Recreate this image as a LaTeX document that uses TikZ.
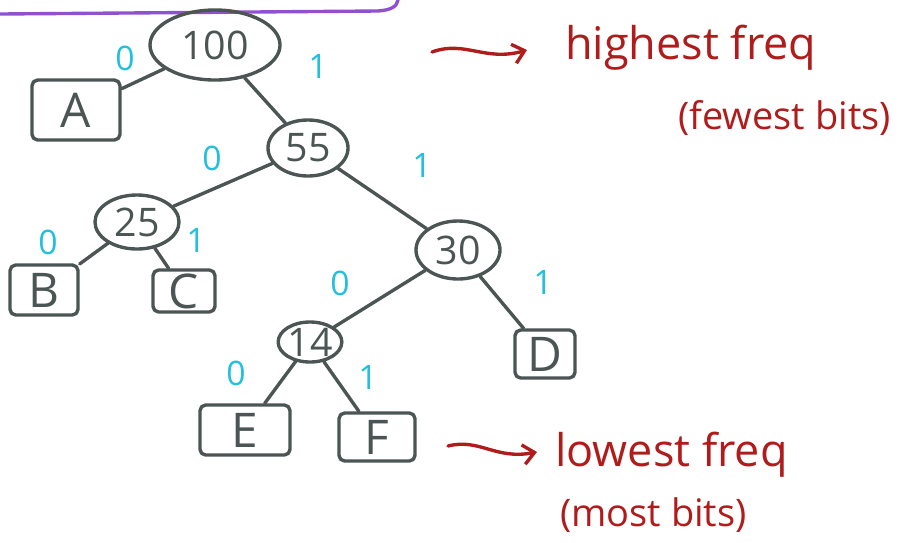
\documentclass[tikz,border=0pt]{standalone}
\usepackage{fontspec}
\setmainfont{Open Sans}
\usetikzlibrary{shapes.geometric,arrows.meta}
\definecolor{inkgray}{HTML}{4B5553}
\definecolor{inkcyan}{HTML}{22C0DC}
\definecolor{inkred}{HTML}{B01C1C}
\definecolor{inkpurple}{HTML}{9050D0}
\begin{document}
\begin{tikzpicture}[
	x=0.025cm, y=-0.025cm,
	line cap=round, line join=round,
	sumnode/.style={ ellipse, draw=inkgray, line width=2.4pt, inner sep=0pt, font=\fontsize{28}{30}\selectfont, text=inkgray },
	leafbox/.style={ rectangle, draw=inkgray, line width=2.4pt, rounded corners=4pt, inner sep=0pt, font=\fontsize{34}{36}\selectfont, text=inkgray },
	bit/.style={ text=inkcyan, font=\fontsize{24}{26}\selectfont, inner sep=0pt },
	branch/.style={ draw=inkgray, line width=2.4pt },
	note/.style={ text=inkred, font=\fontsize{32}{34}\selectfont, inner sep=0pt },
	subnote/.style={ text=inkred, font=\fontsize{27}{29}\selectfont, inner sep=0pt },
	pointer/.style={ draw=inkred, line width=2.4pt, -{Straight Barb[length=8pt,width=14pt,line width=2.4pt]} }
]
	\useasboundingbox (0,0) rectangle (906,542);

	% frame edge from above
	\draw[inkpurple, line width=2.4pt] (0,14) -- (378,11) .. controls (392,10) and (397,6) .. (398,0);

	% inner nodes
	\node[sumnode, minimum width=3.25cm, minimum height=1.75cm] (n100) at (215,45) {100};
	\node[sumnode, minimum width=2.0cm, minimum height=1.4cm] (n55) at (308,148) {55};
	\node[sumnode, minimum width=2.1cm, minimum height=1.35cm] (n25) at (137,222) {25};
	\node[sumnode, minimum width=2.1cm, minimum height=1.45cm] (n30) at (458,250) {30};
	\node[sumnode, minimum width=1.35cm, minimum height=1.0cm] (n14) at (310,342) {14};

	% leaves
	\node[leafbox, minimum width=2.2cm, minimum height=1.5cm] (lA) at (76,110) {A};
	\node[leafbox, minimum width=1.7cm, minimum height=1.25cm] (lB) at (44,290) {B};
	\node[leafbox, minimum width=1.55cm, minimum height=1.05cm] (lC) at (184,291) {C};
	\node[leafbox, minimum width=1.5cm, minimum height=1.2cm] (lD) at (545,354) {D};
	\node[leafbox, minimum width=2.25cm, minimum height=1.25cm] (lE) at (245,430) {E};
	\node[leafbox, minimum width=1.9cm, minimum height=1.2cm] (lF) at (377,437) {F};

	% branches
	\draw[branch] (n100) -- (lA);
	\draw[branch] (n100) -- (n55);
	\draw[branch] (n55) -- (n25);
	\draw[branch] (n55) -- (n30);
	\draw[branch] (n25) -- (lB);
	\draw[branch] (n25) -- (lC);
	\draw[branch] (n30) -- (n14);
	\draw[branch] (n30) -- (lD);
	\draw[branch] (n14) -- (lE);
	\draw[branch] (n14) -- (lF);

	% bit labels
	\node[bit] (b100A) at (125,58) {0};
	\node[bit] (b10055) at (318,66) {1};
	\node[bit] (b5525) at (212,158) {0};
	\node[bit] (b5530) at (422,165) {1};
	\node[bit] (b25B) at (48,242) {0};
	\node[bit] (b25C) at (196,240) {1};
	\node[bit] (b3014) at (340,283) {0};
	\node[bit] (b30D) at (543,282) {1};
	\node[bit] (b14E) at (236,373) {0};
	\node[bit] (b14F) at (368,377) {1};

	% notes
	\node[note, anchor=west] (high) at (565,48) {highest freq};
	\node[subnote, anchor=west] (highsub) at (678,118) {(fewest bits)};
	\node[note, anchor=west] (low) at (555,455) {lowest freq};
	\node[subnote, anchor=west] (lowsub) at (560,515) {(most bits)};

	\coordinate (hightail) at (432,52);
	\coordinate (highhead) at (527,50);
	\coordinate (lowtail) at (448,446);
	\coordinate (lowhead) at (537,452);
	\draw[pointer] (hightail) .. controls (465,40) and (485,62) .. (highhead);
	\draw[pointer] (lowtail) .. controls (480,438) and (495,460) .. (lowhead);
\end{tikzpicture}
\end{document}
